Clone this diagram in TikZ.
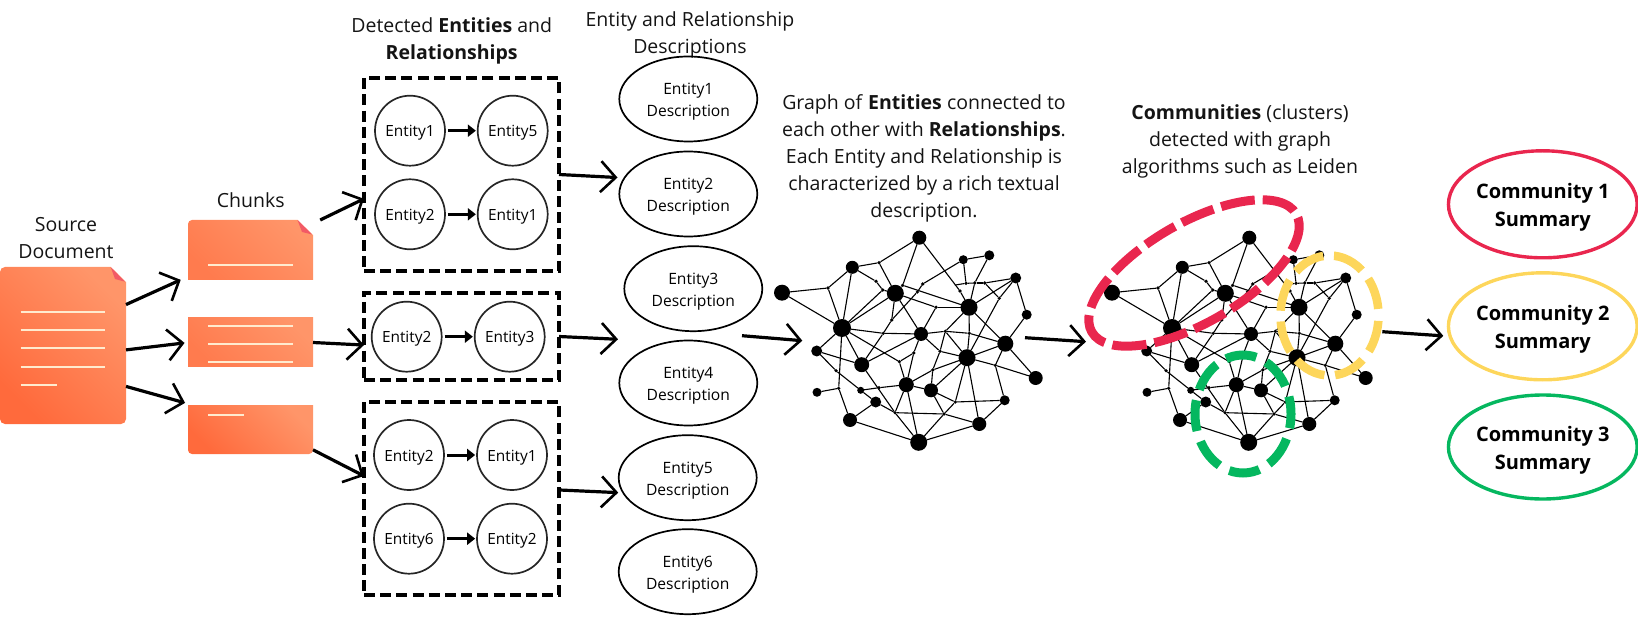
\documentclass[tikz,border=0pt]{standalone}
\usepackage{fontspec}
\setmainfont{Open Sans}
\usetikzlibrary{arrows.meta,shapes.geometric}

\definecolor{sheetdark}{HTML}{FF6A3C}
\definecolor{sheetmid}{HTML}{FF7B4E}
\definecolor{sheetlight}{HTML}{FF9569}
\definecolor{foldred}{HTML}{F25A66}
\definecolor{sheetline}{HTML}{FFEBCF}
\definecolor{commred}{HTML}{E9264E}
\definecolor{commyellow}{HTML}{FDD65B}
\definecolor{commgreen}{HTML}{05B75F}

\tikzset{
  label/.style={font=\fontsize{19.5}{27}\selectfont,align=center,inner sep=0pt,text=black!92},
  sheet/.style={bottom color=sheetdark,top color=sheetlight,shading angle=-45,draw=none},
  chunksheet/.style={bottom color=sheetmid,top color=sheetlight,shading angle=-45,draw=none},
  sheetbox/.style={inner sep=0pt,outer sep=0pt,minimum width=#1},
  sheetline/.style={draw=sheetline,line width=1.9pt},
  foldcorner/.style={fill=foldred},
  entity/.style={circle,draw=black!85,line width=1.7pt,minimum size=70pt,inner sep=0pt,font=\fontsize{15.4}{20}\selectfont,execute at begin node={\rule{0pt}{16pt}}},
  entitydesc/.style={ellipse,draw=black,line width=1.7pt,minimum width=138pt,minimum height=85pt,inner sep=0pt,align=center,font=\fontsize{15.6}{22}\selectfont,text height=39pt},
  relbox/.style={draw=black,line width=3.2pt,dash pattern=on 11pt off 5.2pt,minimum width=195pt,inner sep=0pt,outer sep=0pt},
  relarrow/.style={line width=3pt,-{Triangle[length=8pt,width=12pt]}},
  handarrow/.style={line width=3.2pt,-{Straight Barb[length=15pt,width=31pt,line width=2.6pt]}},
  gnode/.style={circle,fill=black,inner sep=0pt,outer sep=0pt},
  gedge/.style={line width=1.1pt},
  commring/.style={line width=#1,line cap=butt},
  summary/.style={ellipse,line width=3.4pt,minimum width=188pt,inner sep=0pt,align=center,font=\fontsize{20}{28}\selectfont\bfseries,text height=49pt},
}

% the graph is drawn twice, so it sits in a macro
\newcommand{\graphnet}{
  \foreach \n/\x/\y/\r in {A/919.3/237.7/7,B/782/292.7/8,C/852.3/267.3/6.5,D/842/328/9,E/895.3/293.3/8.5,
    F/963.3/259.7/4.5,G/989.3/255.3/5,H/1015.7/278/5.5,I/969/307.3/8.5,J/921/334/7,K/1005.3/343.7/8,
    L/967/357.7/8.5,M/816.7/351/5.5,N/861.7/364.7/7.5,O/906.3/384.7/7.5,P/931/390.3/7,Q/1004.7/400.3/5,
    R/979.3/424/7,S/918.7/442.3/8.5,T/850/420/7,U/875.7/402/5.5,V/860.7/390.3/3.5,W/817/392.3/4.5,
    X/1035.7/378/7,Y/1026.7/314.7/5,
    a/828/288/1.8,b/879/262.7/1.8,c/876/281.3/1.8,d/882.7/290/1.8,e/902.7/285.3/1.8,f/922.7/284/1.8,
    g/917.3/292/1.8,h/936/307.3/1.8,i/960/291/1.8,j/966/283.3/1.8,k/974.7/283/1.8,l/984.7/283/1.8,
    m/999.3/298.3/1.8,n/891.7/320/1.8,o/883.3/333.3/1.8,p/945.3/331.3/1.8,q/969.3/333.3/1.8,r/940/351.3/1.8,
    s/932.7/370/1.8,t/913.7/353/1.8,u/899.3/361.7/1.8,v/836/370.7/1.8,w/838.7/388.3/1.8,x/879/387.7/1.8,
    y/895/412.7/1.8,z/944/414/1.8,aa/955.3/402/1.8,ab/955.3/285/0.6,bb/995.3/365.3/1.8}
    \node[gnode,minimum size=2*\r] (\n) at (\x,\y) {};
  \foreach \from/\to in {B/a,a/C,a/D,B/D,C/D,C/b,b/A,b/E,C/c,c/d,d/E,D/d,D/E,A/e,e/E,A/i,i/I,F/f,f/g,g/n,n/o,o/N,
    E/n,e/I,E/h,h/I,h/J,E/J,F/j,G/k,k/I,ab/j,j/k,k/l,l/H,l/m,H/m,m/L,H/I,I/K,I/q,q/L,I/p,J/p,p/q,q/K,p/L,p/r,r/s,
    J/r,r/L,K/L,L/s,s/O,s/P,L/P,L/aa,L/R,J/t,t/O,t/u,N/J,D/o,o/J,D/u,u/O,D/N,D/M,M/N,M/v,v/V,V/U,D/w,W/w,w/T,V/x,x/O,
    N/y,y/S,U/y,T/U,T/S,O/y,O/S,O/P,P/aa,aa/Q,P/z,z/S,y/z,z/R,aa/z,S/R,R/Q,L/bb,bb/X,K/bb,bb/Q,K/X,K/Y,H/Y,F/G}
    \draw[gedge] (\from) -- (\to);
}

\begin{document}
\begin{tikzpicture}[x=1pt,y=-1pt]
  \useasboundingbox (0,0) rectangle (1638,617);

  % source document and chunks
  \shade[sheet] (110.7,267) [rounded corners=5pt] -- (0,267) -- (0,424) -- (126,424) [sharp corners] -- (126,282) -- cycle;
  \fill[foldcorner] (110.7,267) -- (125,281.7) -- (115,279) -- cycle;
  \node[sheetbox=126pt,minimum height=157pt] (doc) at (63,345.5) {};
  \shade[chunksheet] (297.5,220) [rounded corners=4pt] -- (188,220) [sharp corners] -- (188,280) -- (313,280) -- (313,235) -- cycle;
  \fill[foldcorner] (297.5,220) -- (312,234.5) -- (302,232) -- cycle;
  \node[sheetbox=125pt,minimum height=60pt] (chunka) at (250.5,250) {};
  \shade[chunksheet] (188,318) rectangle (313,367);
  \node[sheetbox=125pt,minimum height=49pt] (chunkb) at (250.5,342.5) {};
  \shade[sheet] (188,405) -- (313,405) [rounded corners=4pt] -- (313,454) -- (188,454) [sharp corners] -- cycle;
  \node[sheetbox=125pt,minimum height=49pt] (chunkc) at (250.5,429.5) {};

  \foreach \y in {311.7,330,348.3,366.7}
    \draw[sheetline] (20.7,\y) -- (105,\y);
  \draw[sheetline] (20.7,385) -- (56.7,385);
  \draw[sheetline] (208.3,265.3) -- (292.7,265.3);
  \foreach \y in {325.7,344,362.3}
    \draw[sheetline] (208.3,\y) -- (292.7,\y);
  \draw[sheetline] (208.3,415.3) -- (244,415.3);

  \node[label] (srclabel) at (66,238) {Source\\Document};
  \node[label] (chunklabel) at (250.7,200) {Chunks};
  \node[label] (detlabel) at (451.7,40.5) {Detected \textbf{Entities} and\\\textbf{Relationships}};
  \node[label] (desclabel) at (690,34.5) {Entity and Relationship\\Descriptions};
  \node[label] (graphlabel) at (924,158) {Graph of \textbf{Entities} connected to\\each other with \textbf{Relationships}.\\Each Entity and Relationship is\\characterized by a rich textual\\description.};
  \node[label] (commlabel) at (1240,141) {\textbf{Communities} (clusters)\\detected with graph\\algorithms such as Leiden};

  % entities and relationships
  \node[relbox,minimum height=193pt] (boxa) at (461.5,174.5) {};
  \node[relbox,minimum height=87pt] (boxb) at (461.5,336.5) {};
  \node[relbox,minimum height=193pt] (boxc) at (461.5,498.5) {};

  \node[entity] (ea1) at (410,130.7) {Entity1};
  \node[entity] (ea5) at (512.7,130.7) {Entity5};
  \node[entity] (ea2) at (410,214.3) {Entity2};
  \node[entity] (ea6) at (512.7,214.3) {Entity1};
  \node[entity] (eb2) at (406.7,336.7) {Entity2};
  \node[entity] (eb3) at (509.7,336.7) {Entity3};
  \node[entity] (ec2) at (409,455) {Entity2};
  \node[entity] (ec1) at (512,455) {Entity1};
  \node[entity] (ec6) at (409,538.7) {Entity6};
  \node[entity] (ec7) at (512,538.7) {Entity2};

  \foreach \from/\to in {ea1/ea5,ea2/ea6,eb2/eb3,ec2/ec1,ec6/ec7}
    \draw[relarrow,shorten <=2pt,shorten >=1pt] (\from) -- (\to);

  % descriptions
  \node[entitydesc] (d1) at (688.3,99) {Entity1\\Description};
  \node[entitydesc] (d2) at (688.3,194) {Entity2\\Description};
  \node[entitydesc] (d3) at (693.3,288.7) {Entity3\\Description};
  \node[entitydesc] (d4) at (688.3,383) {Entity4\\Description};
  \node[entitydesc] (d5) at (687.7,477.7) {Entity5\\Description};
  \node[entitydesc] (d6) at (687.7,571.7) {Entity6\\Description};

  % the two graphs
  \graphnet
  \begin{scope}[xshift=330,name prefix=c-]
    \graphnet
  \end{scope}

  % communities
  \draw[commring=9pt,commred,dash pattern=on 34.3pt off 8pt,dash phase=38.3pt] (1194,273) ellipse[x radius=118,y radius=50,rotate=30];
  \draw[commring=8.5pt,commyellow,dash pattern=on 32pt off 10.75pt,dash phase=37.35pt] (1329.5,315.5) ellipse[x radius=49,y radius=60];
  \draw[commring=9pt,commgreen,dash pattern=on 31pt off 11pt,dash phase=16.7pt] (1243,414) ellipse[x radius=48,y radius=59];

  \node[summary,draw=commred,minimum height=107pt] (sum1) at (1542.8,204.3) {Community 1\\Summary};
  \node[summary,draw=commyellow,minimum height=107pt] (sum2) at (1542.8,326.3) {Community 2\\Summary};
  \node[summary,draw=commgreen,minimum height=104pt] (sum3) at (1542.8,447) {Community 3\\Summary};

  % hand drawn arrows
  \coordinate (desctip) at (618,339.3);
  \coordinate (graphin) at (742,335.7);
  \coordinate (graphtip) at (802.3,340.7);
  \coordinate (commin) at (1025,337.7);
  \coordinate (commtip) at (1086,341.7);
  \coordinate (sumin) at (1382.3,331.7);

  \draw[handarrow,shorten >=8pt] (doc.33) -- (chunka.-157);
  \draw[handarrow,shorten >=3.5pt] (doc.-4) -- (chunkb.west);
  \draw[handarrow,shorten >=8pt] (doc.-33) -- (chunkc.157);
  \draw[handarrow,shorten <=8pt] (chunka.23) -- (boxa.194.7);
  \draw[handarrow] (chunkb.east) -- (boxb.185.6);
  \draw[handarrow] (chunkc.-18) -- (boxc.167.4);
  \draw[handarrow,shorten >=6pt] (boxa.east) -- (d2.166.3);
  \draw[handarrow] (boxb.east) -- (desctip);
  \draw[handarrow,shorten >=4pt] (boxc.5.6) -- (d5.193);
  \draw[handarrow] (graphin) -- (graphtip);
  \draw[handarrow] (commin) -- (commtip);
  \draw[handarrow,shorten >=5pt] (sumin) -- (sum2.186.7);
\end{tikzpicture}
\end{document}
